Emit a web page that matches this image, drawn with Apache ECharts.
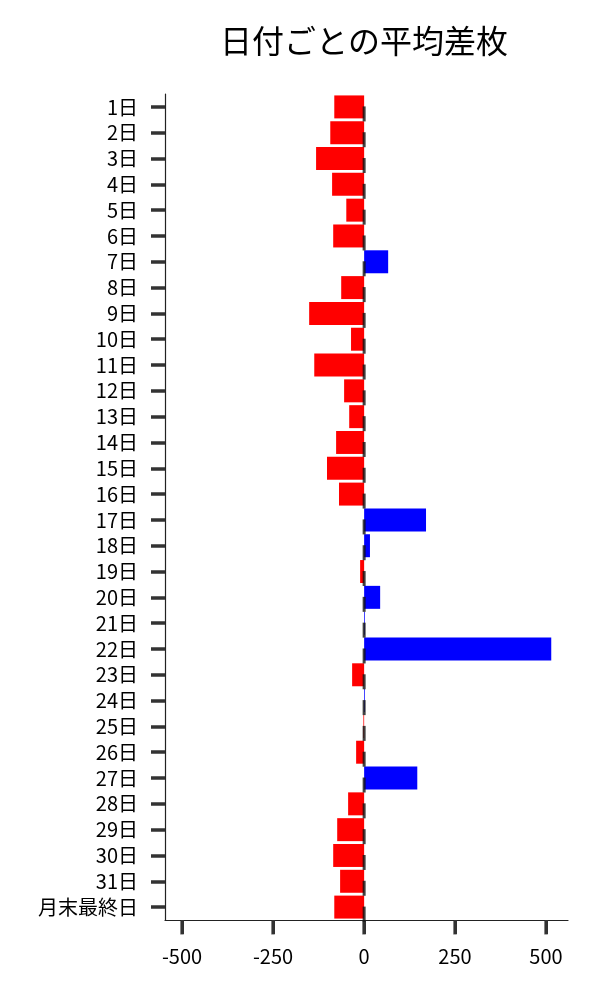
<!DOCTYPE html>
<html>
<head>
<meta charset="utf-8">
<script src="https://cdn.jsdelivr.net/npm/echarts@6/dist/echarts.min.js"></script>
<style>html,body{margin:0;padding:0;background:#fff;}#c{width:600px;height:1000px;}</style>
</head>
<body>
<div id="c"></div>
<script>
const titleText = '日付ごとの平均差枚';
const categories = ['1日','2日','3日','4日','5日','6日','7日','8日','9日','10日','11日','12日','13日','14日','15日','16日','17日','18日','19日','20日','21日','22日','23日','24日','25日','26日','27日','28日','29日','30日','31日','月末最終日'];
const avgDiff = [-82,-93,-132,-88,-49,-85,66,-63,-151,-36,-137,-55,-41,-77,-102,-69,170,16,-11,44,2,514,-33,2,-2,-22,146,-44,-74,-85,-66,-82];
const baseMarks = [0,0,0,0,0,0,0,0,0,0,0,0,0,0,0,0,0,0,0,0,0,0,0,0,0,0,0,0,0,0,0,0];
const xTicks = [-500,-250,0,250,500];

const font = '"Noto Sans CJK JP", "Noto Sans", sans-serif';
const chart = echarts.init(document.getElementById('c'));
chart.setOption({
  animation: false,
  backgroundColor: '#fff',
  title: {
    text: titleText, left: 359, top: 20, textAlign: 'center',
    textStyle: { fontFamily: font, fontSize: 32, fontWeight: 'normal', color: '#000' }
  },
  grid: [
    { left: 165, right: 32, top: 94, bottom: 80, containLabel: false },
    { left: 182, width: 364, top: 919, height: 1, containLabel: false }
  ],
  xAxis: [
    {
      type: 'value', gridIndex: 0, min: -547, max: 560,
      axisLine: { show: true, onZero: false, lineStyle: { color: '#222', width: 1.2 } },
      axisTick: { show: false },
      axisLabel: { show: false },
      splitLine: { show: false }
    },
    {
      type: 'value', gridIndex: 1, position: 'bottom',
      min: xTicks[0], max: xTicks[xTicks.length - 1], interval: xTicks[1] - xTicks[0],
      axisLine: { show: false, onZero: false },
      axisTick: { show: true, length: 14, lineStyle: { color: '#333', width: 3 } },
      axisLabel: { margin: 26, fontFamily: font, fontSize: 20, color: '#000' },
      splitLine: { show: false }
    }
  ],
  yAxis: [
    {
      type: 'category', gridIndex: 0, data: categories, inverse: true,
      axisLine: { show: true, onZero: false, lineStyle: { color: '#222', width: 1.2 } },
      axisTick: { show: true, interval: 0, alignWithLabel: true, length: 14, lineStyle: { color: '#333', width: 3.5 } },
      axisLabel: { interval: 0, margin: 27, fontFamily: font, fontSize: 20, color: '#000' },
      splitLine: { show: false }
    },
    {
      type: 'value', gridIndex: 1, min: 0, max: 1, show: false
    }
  ],
  series: [
    {
      type: 'bar', data: avgDiff, barCategoryGap: '11%',
      itemStyle: { color: p => p.value < 0 ? '#ff0000' : '#0000ff' }
    },
    {
      type: 'scatter', data: baseMarks.map((v, i) => [v, categories[i]]),
      symbol: 'rect', symbolSize: [3, 15], symbolOffset: [0, 7],
      itemStyle: { color: '#111' }, z: 5, silent: true
    },
    {
      // x-axis tick marks, placed by the tick axis scale
      type: 'scatter', xAxisIndex: 1, yAxisIndex: 1, clip: false,
      data: xTicks.map(v => [v, 0]),
      symbol: 'rect', symbolSize: [3.5, 14], symbolOffset: [0, 7.5],
      itemStyle: { color: '#333' }, silent: true
    }
  ]
});
</script>
</body>
</html>
